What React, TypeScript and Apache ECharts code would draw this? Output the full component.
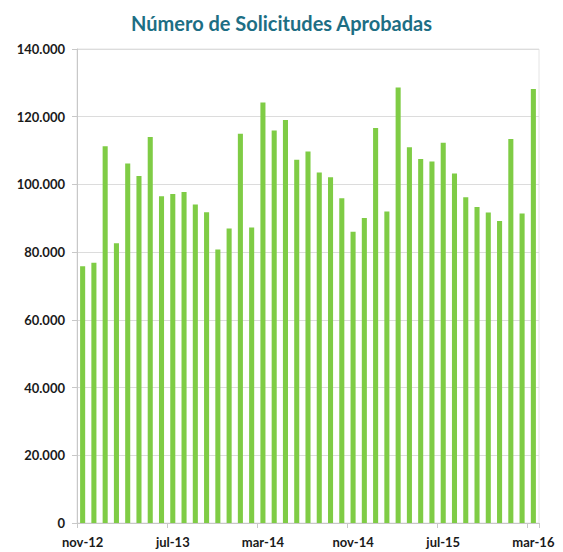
import React, { useEffect, useRef } from "react";
import * as echarts from "echarts";

const categories: string[] = [
  "nov-12", "dic-12",
  "ene-13", "feb-13", "mar-13", "abr-13", "may-13", "jun-13", "jul-13", "ago-13", "sep-13", "oct-13", "nov-13", "dic-13",
  "ene-14", "feb-14", "mar-14", "abr-14", "may-14", "jun-14", "jul-14", "ago-14", "sep-14", "oct-14", "nov-14", "dic-14",
  "ene-15", "feb-15", "mar-15", "abr-15", "may-15", "jun-15", "jul-15", "ago-15", "sep-15", "oct-15", "nov-15", "dic-15",
  "ene-16", "feb-16", "mar-16",
];

const approved: number[] = [
  75800, 76900,
  111300, 82600, 106200, 102500, 114000, 96500, 97200, 97800, 94100, 91800, 80800, 87000,
  115000, 87300, 124200, 115900, 119000, 107300, 109700, 103500, 102100, 95900, 86000, 90100,
  116700, 92000, 128600, 111000, 107500, 106800, 112300, 103200, 96200, 93300, 91700, 89200,
  113400, 91400, 128200,
];

const yTicks = { min: 0, max: 140000, interval: 20000 };
const title = "Número de Solicitudes Aprobadas";

function fmt(v: number): string {
  if (v === 0) return "0";
  const s = Math.round(v).toString();
  return s.replace(/\B(?=(\d{3})+(?!\d))/g, ".");
}

export default function App() {
  const ref = useRef<HTMLDivElement>(null);
  useEffect(() => {
    if (!ref.current) return;
    const chart = echarts.init(ref.current, null, { renderer: "svg" });
    chart.setOption({
      animation: false,
      backgroundColor: "#ffffff",
      title: {
        text: title,
        left: "center",
        top: 8,
        textStyle: {
          fontFamily: "Lato, 'Open Sans', sans-serif",
          fontWeight: "bold",
          fontSize: 20,
          color: "#1d6e84",
        },
      },
      grid: { left: 77, right: 24, top: 49, bottom: 29, containLabel: false, show: true, borderColor: "#e4e4e4", borderWidth: 1 },
      xAxis: {
        type: "category",
        data: categories,
        boundaryGap: true,
        axisLine: { lineStyle: { color: "#c8c8c8" } },
        axisTick: { show: true, interval: 7, length: 5, lineStyle: { color: "#c8c8c8" } },
        axisLabel: {
          interval: 7,
          margin: 12,
          fontFamily: "Lato, 'Open Sans', sans-serif",
          fontWeight: "bold",
          fontSize: 13,
          color: "#1a1a1a",
        },
        splitLine: { show: false },
      },
      yAxis: {
        type: "value",
        min: yTicks.min,
        max: yTicks.max,
        interval: yTicks.interval,
        axisLine: { show: true, lineStyle: { color: "#c8c8c8" } },
        axisTick: { show: true, length: 5, lineStyle: { color: "#c8c8c8" } },
        axisLabel: {
          formatter: (v: number) => fmt(v),
          margin: 12,
          fontFamily: "Lato, 'Open Sans', sans-serif",
          fontWeight: "bold",
          fontSize: 13,
          color: "#1a1a1a",
        },
        splitLine: { show: true, lineStyle: { color: "#dcdcdc" } },
      },
      series: [
        {
          type: "bar",
          data: approved,
          barWidth: "45%",
          itemStyle: { color: "#7fcc45" },
        },
      ],
    });
    return () => chart.dispose();
  }, []);
  return (
    <div
      ref={ref}
      style={{ position: "absolute", left: 0, top: 0, width: 563, height: 552 }}
    />
  );
}
